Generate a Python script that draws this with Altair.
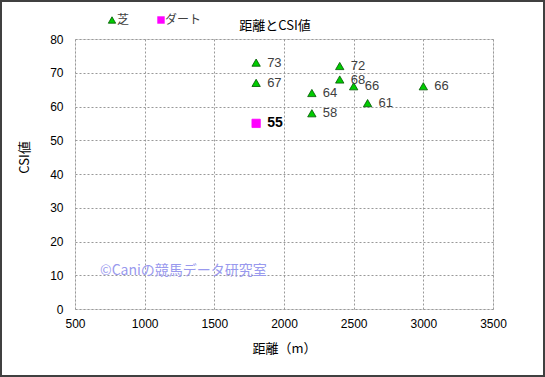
import altair as alt
import pandas as pd

turf_dist = [1800, 1800, 2200, 2200, 2400, 2400, 2500, 2600, 3000]
turf_csi = [73, 67, 64, 58, 72, 68, 66, 61, 66]
dirt_dist = [1800]
dirt_csi = [55]
x_ticks = [500, 1000, 1500, 2000, 2500, 3000, 3500]
y_ticks = [0, 10, 20, 30, 40, 50, 60, 70, 80]

JP = "Noto Sans CJK JP"
NUM = "Liberation Sans, Arial, Noto Sans CJK JP"
W, H = 418, 270

df = pd.DataFrame({
    "dist": turf_dist + dirt_dist,
    "csi": turf_csi + dirt_csi,
    "type": ["芝"] * len(turf_dist) + ["ダート"] * len(dirt_dist),
})

xs = alt.Scale(domain=[500, 3500], nice=False)
ys = alt.Scale(domain=[0, 80], nice=False)

x_axis = alt.Axis(values=x_ticks, grid=True, labelFlush=False, labelOverlap=False,
                  gridDash=[2, 2], gridColor="#999999", ticks=False,
                  domain=False, labelPadding=9, titlePadding=13,
                  labelFontSize=12, titleFontSize=13, labelColor="#000",
                  titleColor="#000", titleFontWeight="normal",
                  labelFont=NUM, titleFont=JP, format="d")
y_axis = alt.Axis(values=y_ticks, tickCount=9, grid=True, labelFlush=False,
                  labelOverlap=False,
                  gridDash=[2, 2], gridColor="#999999", ticks=False,
                  domain=False, labelPadding=12, titlePadding=18,
                  titleY=118,
                  labelFontSize=12, titleFontSize=13, labelColor="#000",
                  titleColor="#000", titleFontWeight="normal",
                  labelFont=NUM, titleFont=JP, format="d")

X = alt.X("dist:Q", scale=xs, title="距離（m）", axis=x_axis)
Y = alt.Y("csi:Q", scale=ys, title="CSI値", axis=y_axis)

base = alt.Chart(df)

pts = base.mark_point(filled=True, opacity=1, strokeWidth=0.8).encode(
    x=X, y=Y,
    shape=alt.Shape("type:N", scale=alt.Scale(domain=["芝", "ダート"],
                                              range=["triangle-up", "square"]),
                    legend=None),
    color=alt.Color("type:N", scale=alt.Scale(domain=["芝", "ダート"],
                                              range=["#00CC00", "#FF00FF"]),
                    legend=None),
    stroke=alt.Stroke("type:N", scale=alt.Scale(domain=["芝", "ダート"],
                                                range=["#005500", "#FF00FF"]),
                      legend=None),
    size=alt.value(70),
)

turf_lbl = base.transform_filter(alt.datum.type == "芝").mark_text(
    align="left", dx=11, dy=0, font=NUM, fontSize=13, color="#404040"
).encode(x=X, y=Y, text="csi:Q")

dirt_lbl = base.transform_filter(alt.datum.type == "ダート").mark_text(
    align="left", dx=11, dy=0, font=NUM, fontSize=14, fontWeight="bold", color="#000"
).encode(x=X, y=Y, text="csi:Q")

wm = alt.Chart(pd.DataFrame({"t": ["©Caniの競馬データ研究室"]})).mark_text(
    align="left", baseline="middle", font=JP, fontSize=14, color="#9999EE"
).encode(x=alt.value(25), y=alt.value(232), text="t:N")

title = alt.Chart(pd.DataFrame({"t": ["距離とCSI値"]})).mark_text(
    align="center", baseline="middle", font=JP, fontSize=13, color="#000"
).encode(x=alt.value(200), y=alt.value(-13), text="t:N")

leg_tri = alt.Chart(pd.DataFrame({"a": [0]})).mark_point(
    shape="triangle-up", filled=True, color="#00CC00", stroke="#005500",
    strokeWidth=0.8, size=55, opacity=1
).encode(x=alt.value(37), y=alt.value(-19))
leg_sq = alt.Chart(pd.DataFrame({"a": [0]})).mark_point(
    shape="square", filled=True, color="#FF00FF", size=55, opacity=1
).encode(x=alt.value(86), y=alt.value(-19))
leg_t1 = alt.Chart(pd.DataFrame({"t": ["芝"]})).mark_text(
    align="left", baseline="middle", font=JP, fontSize=12, color="#404040"
).encode(x=alt.value(42), y=alt.value(-19), text="t:N")
leg_t2 = alt.Chart(pd.DataFrame({"t": ["ダート"]})).mark_text(
    align="left", baseline="middle", font=JP, fontSize=12, color="#404040"
).encode(x=alt.value(90), y=alt.value(-19), text="t:N")

border = alt.Chart(pd.DataFrame({"a": [0]})).mark_rect(
    fill=None, stroke="#404040", strokeWidth=2
).encode(x=alt.value(-74), x2=alt.value(W + 51), y=alt.value(-38), y2=alt.value(H + 67))

chart = alt.layer(border, pts, turf_lbl, dirt_lbl, wm, title,
                  leg_tri, leg_sq, leg_t1, leg_t2).properties(
    width=W, height=H,
    autosize=alt.AutoSizeParams(type="none"),
    padding={"left": 75, "top": 39, "right": 52, "bottom": 68},
).configure_view(stroke="#808080", strokeWidth=1.5).configure(background="white")

chart.save("out.html", embed_options={"renderer": "svg", "actions": False})
